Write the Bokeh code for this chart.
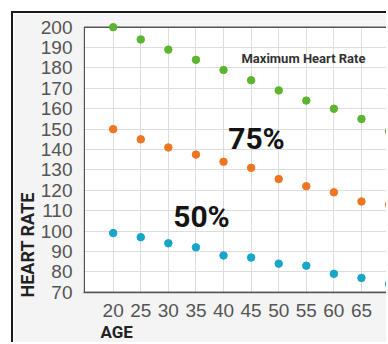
from bokeh.plotting import figure
from bokeh.layouts import column
from bokeh.models import Label, FixedTicker, Range1d, Title
from bokeh.embed import file_html
from bokeh.resources import INLINE

# ---- data ----
ages = [20, 25, 30, 35, 40, 45, 50, 55, 60, 65, 70]
max_hr = [200, 194, 189, 184, 179, 174, 169, 164, 160, 155, 149]
hr_75 = [150, 145, 141, 137.5, 134, 131, 125.5, 122, 119, 114.5, 113]
hr_50 = [99, 97, 94, 92, 88, 87, 84, 83, 79, 77, 74]
x_ticks = [20, 25, 30, 35, 40, 45, 50, 55, 60, 65]
y_ticks = [70, 80, 90, 100, 110, 120, 130, 140, 150, 160, 170, 180, 190, 200]

GREEN = "#5DB52F"
ORANGE = "#EE7623"
CYAN = "#18A5C8"
BORDER_BG = "#f4f4f4"

X0, X1 = 14.62, 69.9
Y0, Y1 = 69.85, 202.8
PX_X = 5.518   # px per year
PX_Y = 2.038   # px per bpm

p = figure(width=375, height=331,
           x_range=Range1d(X0, X1), y_range=Range1d(Y0, Y1),
           output_backend="svg", toolbar_location=None,
           min_border_left=70, min_border_right=0,
           min_border_top=8, min_border_bottom=52,
           background_fill_color="white", border_fill_color=BORDER_BG,
           outline_line_color=None,
           styles={"border-top": "2px solid #1a1a1a",
                   "border-left": "2px solid #1a1a1a"})

tick_font = "Liberation Sans"
for ax in (p.xaxis, p.yaxis):
    ax.major_tick_line_color = None
    ax.minor_tick_line_color = None
    ax.major_tick_out = 0
    ax.major_tick_in = 0
    ax.minor_tick_out = 0
    ax.axis_label_standoff = 0
    ax.major_label_text_font = tick_font
    ax.major_label_text_font_size = "19px"
    ax.major_label_text_color = "#555555"
p.xaxis.ticker = FixedTicker(ticks=x_ticks)
p.yaxis.ticker = FixedTicker(ticks=y_ticks)
p.xaxis.axis_line_color = "#555555"
p.xaxis.axis_line_width = 1.5
p.yaxis.axis_line_color = None
p.xaxis.major_label_standoff = 11
p.yaxis.major_label_standoff = 11

p.grid.grid_line_color = "#dddddd"
p.grid.grid_line_width = 1

# grey band above the 200 line and the plot's border (drawn under the dots)
p.quad(left=X0, right=X1, bottom=200, top=Y1,
       fill_color=BORDER_BG, line_color=None)
p.quad(left=X0 + 0.14, right=X1 + 5, bottom=Y0, top=200,
       fill_alpha=0, line_color="#555555", line_width=1.5)

p.scatter(ages, max_hr, size=7.5, color=GREEN)
p.scatter(ages, hr_75, size=7.5, color=ORANGE)
p.scatter(ages, hr_50, size=7.5, color=CYAN)

def dx(px):
    return 20 + (px - 112.7) / PX_X

def dy(py):
    return 200 - (py - 26.7) / PX_Y

p.add_layout(Label(x=dx(241), y=dy(57.5), text="Maximum Heart Rate",
                   text_font="Roboto", text_font_style="bold",
                   text_font_size="13px", text_color="#333333",
                   text_align="left", text_baseline="middle"))
p.add_layout(Label(x=dx(256), y=dy(138), text="75%",
                   text_font="Roboto", text_font_style="bold",
                   text_font_size="30px", text_color="#141414",
                   text_align="center", text_baseline="middle"))
p.add_layout(Label(x=dx(201), y=dy(216), text="50%",
                   text_font="Roboto", text_font_style="bold",
                   text_font_size="30px", text_color="#141414",
                   text_align="center", text_baseline="middle"))

p.add_layout(Title(text="HEART RATE", align="left", offset=-5, standoff=0,
                   text_font="Roboto", text_font_style="bold",
                   text_font_size="18px", text_color="#222222"), "left")
p.add_layout(Title(text="AGE", align="left", offset=17, standoff=0,
                   text_font="Roboto", text_font_style="bold",
                   text_font_size="17px", text_color="#222222"), "below")

root = column(p, styles={"padding-left": "11px", "padding-top": "11px",
                         "background-color": "white"})

open("out.html", "w").write(file_html(root, INLINE))
